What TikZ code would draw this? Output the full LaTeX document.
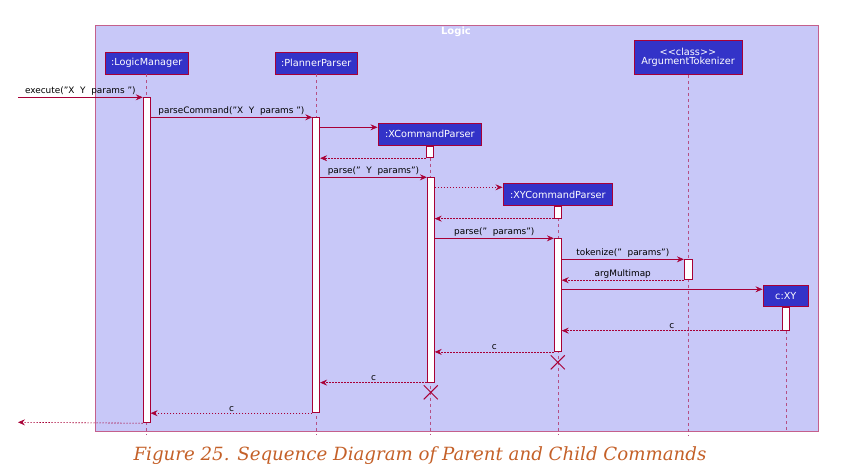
\documentclass[tikz,border=0pt]{standalone}
\usepackage{fontspec}
\setmainfont{DejaVu Sans}
\newfontfamily\captionfont{DejaVu Serif}
\usetikzlibrary{positioning, arrows.meta}

\definecolor{framefill}{RGB}{200,200,248}
\definecolor{frameline}{RGB}{196,96,140}
\definecolor{boxfill}{RGB}{51,51,200}
\definecolor{umlred}{RGB}{168,0,54}
\definecolor{captioncol}{RGB}{196,96,40}

\tikzset{
    party/.style={draw=umlred, fill=boxfill, text=white, line width=0.9pt,
        inner sep=1pt, minimum height=22pt, font=\fontsize{9.7}{10.5}\selectfont},
    life/.style={draw=umlred!60!framefill, dash pattern=on 3pt off 3pt, line width=0.6pt},
    act/.style={draw=umlred, fill=white, line width=0.9pt, minimum width=7pt, inner sep=0pt},
    msg/.style={draw=umlred, line width=0.6pt, -{Stealth[length=7pt, width=6pt, inset=2.5pt]}},
    ret/.style={msg, dash pattern=on 1.5pt off 1.5pt},
    lbl/.style={midway, above, inner sep=1.5pt, text=black, font=\fontsize{8.9}{9}\selectfont},
    killmark/.style={draw=umlred, line width=1pt}
}

\begin{document}
\begin{tikzpicture}[x=1pt, y=-1pt]
    \useasboundingbox (0,0) rectangle (847,475);

    % Rahmen
    \draw[fill=framefill, draw=frameline, line width=0.7pt] (95.3,25.7) rectangle (818.3,431);
    \node[text=white, font=\fontsize{10}{11}\selectfont\bfseries] at (456,32) {Logic};

    % Teilnehmer
    \node[party, minimum width=82.7pt] (lm) at (146.7,63) {:LogicManager};
    \node[party, minimum width=82.3pt] (pp) at (316.2,63) {:PlannerParser};
    \node[party, minimum width=108pt, minimum height=33.6pt, align=center] (at) at (688,57.5)
        {<{}<class>{}>\\[-1pt]ArgumentTokenizer};
    \node[party, minimum width=103.7pt, minimum height=21.7pt] (xp) at (429.8,134.2) {:XCommandParser};
    \node[party, minimum width=109.7pt, minimum height=22.4pt] (xyp) at (557.8,194.5) {:XYCommandParser};
    \node[party, minimum width=45.7pt, minimum height=21.4pt] (cxy) at (785.8,296) {c:XY};

    % Lebenslinien
    \draw[life] (lm.south) -- (lm.south |- 0,435);
    \draw[life] (pp.south) -- (pp.south |- 0,435);
    \draw[life] (at.south) -- (at.south |- 0,435);
    \draw[life] (xp.south) -- (xp.south |- 0,435);
    \draw[life] (xyp.south) -- (xyp.south |- 0,435);
    \draw[life] (cxy.south) -- (cxy.south |- 0,432);

    % Aktivierungen
    \node[act, anchor=north, minimum height=325pt] (lmA) at (146.7,97.3) {};
    \node[act, anchor=north, minimum height=295pt] (ppA) at (316.2,117.3) {};
    \node[act, anchor=north, minimum height=11.8pt] (xpA) at (xp.south) {};
    \node[act, anchor=north, minimum height=204.4pt] (xpB) at (430.8,177.3) {};
    \node[act, anchor=north, minimum height=11.6pt] (xypA) at (xyp.south) {};
    \node[act, anchor=north, minimum height=112.7pt] (xypB) at (557.8,238.3) {};
    \node[act, anchor=north, minimum width=8.4pt, minimum height=20pt] (atA) at (688.5,259.3) {};
    \node[act, anchor=north, minimum height=22.6pt] (cxyA) at (cxy.south) {};

    % Zerstoerung
    \draw[killmark] (557.8,362.3) ++(-7,-7) -- ++(14,14) ++(0,-14) -- ++(-14,14);
    \draw[killmark] (430.8,392.3) ++(-7,-7) -- ++(14,14) ++(0,-14) -- ++(-14,14);

    % Nachrichten
    \coordinate (inL) at (18,97.3);
    \coordinate (outL) at (18,422.3);
    \draw[msg] (inL) -- (lmA.north west) node[lbl] {execute("X\ \ Y\ \ params\ ")};
    \draw[msg] (lmA.east |- ppA.north) -- (ppA.north west) node[lbl] {parseCommand("X\ \ Y\ \ params\ ")};
    \draw[msg] (ppA.east |- 0,127.3) -- (xp.west |- 0,127.3);
    \draw[ret] (xpA.south west) -- (ppA.east |- xpA.south);
    \draw[msg] (ppA.east |- xpB.north) -- (xpB.north west) node[lbl] {parse("\ \ Y\ \ params")};
    \draw[ret] (xpB.east |- 0,187.3) -- (xyp.west |- 0,187.3);
    \draw[ret] (xypA.south west) -- (xpB.east |- xypA.south);
    \draw[msg] (xpB.east |- xypB.north) -- (xypB.north west) node[lbl] {parse("\ \ params")};
    \draw[msg] (xypB.east |- atA.north) -- (atA.north west) node[lbl] {tokenize("\ \ params")};
    \draw[ret] (atA.south west) -- (xypB.east |- atA.south) node[lbl] {argMultimap};
    \draw[msg] (xypB.east |- 0,289.3) -- (cxy.west |- 0,289.3);
    \draw[ret] (cxyA.south west) -- (xypB.east |- cxyA.south) node[lbl] {c};
    \draw[ret] (xypB.south west) -- (xpB.east |- xypB.south) node[lbl] {c};
    \draw[ret] (xpB.south west) -- (ppA.east |- xpB.south) node[lbl] {c};
    \draw[ret] (ppA.south west) -- (lmA.east |- ppA.south) node[lbl] {c};
    \draw[ret] (lmA.south west) -- (outL);

    % Bildunterschrift
    \node[text=captioncol, font=\captionfont\itshape\fontsize{18.2}{20}\selectfont] (cap) at (420,456)
        {Figure 25. Sequence Diagram of Parent and Child Commands};
\end{tikzpicture}
\end{document}
